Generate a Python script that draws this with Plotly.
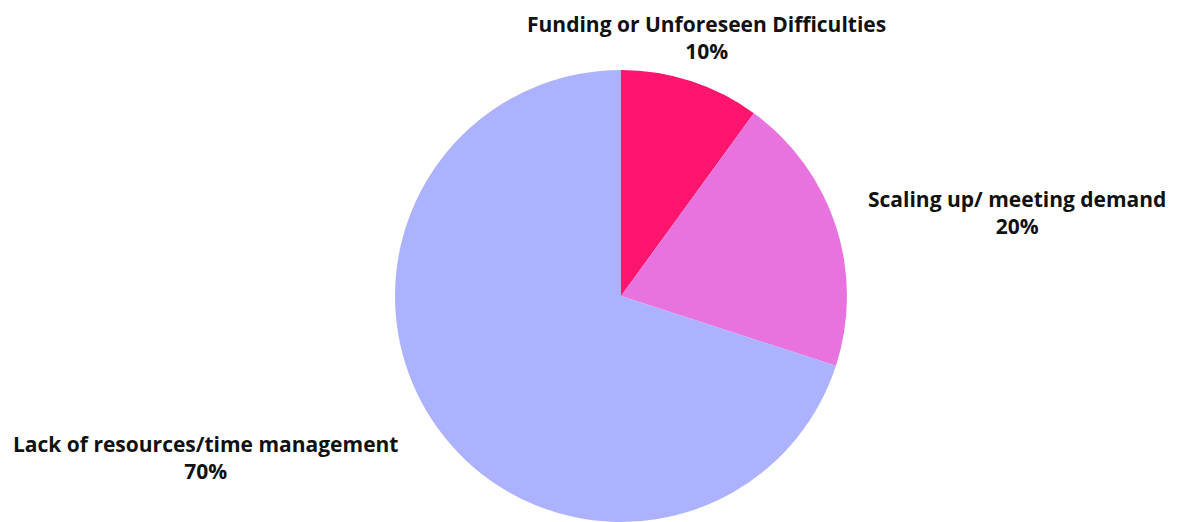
import plotly.graph_objects as go

# Share of responses per challenge category
categories = ["Funding or Unforeseen Difficulties", "Scaling up/ meeting demand", "Lack of resources/time management"]
shares = [10, 20, 70]
colors = ["#FF146E", "#E872DE", "#ADB2FF"]

# Label anchor positions (paper coordinates) for each category
label_x = [0.594, 0.855, 0.173]
label_y = [0.929, 0.592, 0.1245]

W, H = 1190, 522
R = 226
cx = 621

fig = go.Figure(
    go.Pie(
        labels=categories,
        values=shares,
        marker=dict(colors=colors, line=dict(width=0)),
        sort=False,
        direction="clockwise",
        rotation=0,
        textinfo="none",
        hoverinfo="label+percent",
        domain=dict(x=[(cx - R) / W, (cx + R) / W], y=[0, 2 * R / H]),
        showlegend=False,
    )
)

for name, val, x, y in zip(categories, shares, label_x, label_y):
    fig.add_annotation(
        x=x, y=y, xref="paper", yref="paper",
        text=f"<b>{name}<br>{val}%</b>",
        showarrow=False,
        align="center",
        xanchor="center", yanchor="middle",
        font=dict(family="Open Sans", size=21, color="#111111"),
    )

fig.update_layout(
    width=W, height=H,
    margin=dict(l=0, r=0, t=0, b=0),
    paper_bgcolor="white",
    plot_bgcolor="white",
)

fig.write_html("out.html")
